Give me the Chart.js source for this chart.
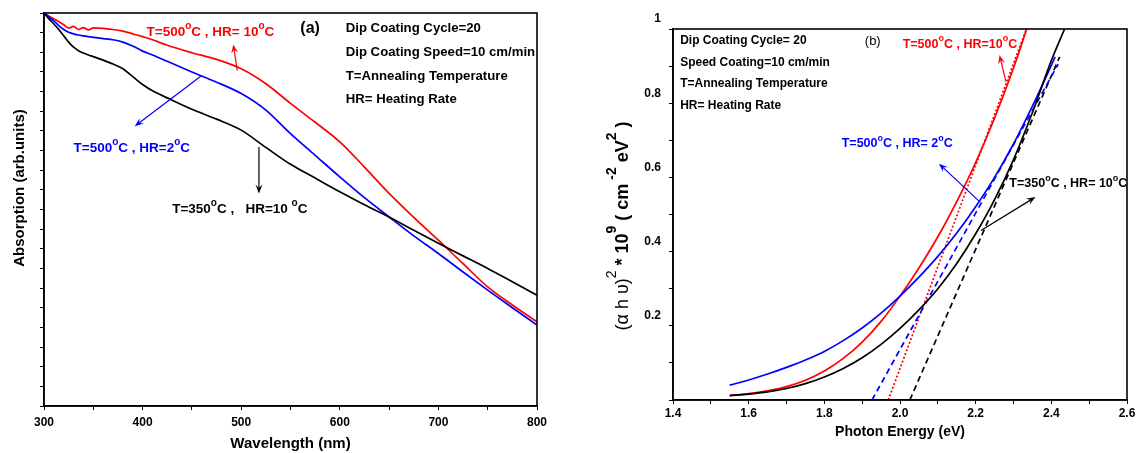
<!DOCTYPE html>
<html>
<head>
<meta charset="utf-8">
<script src="https://cdn.jsdelivr.net/npm/chart.js@4/dist/chart.umd.min.js"></script>
<style>
body { margin: 0; background: #fff; width: 1142px; height: 453px; position: relative; overflow: hidden; }
canvas { position: absolute; top: 0; }
#chartA { left: 0; }
#chartB { left: 580px; }
</style>
</head>
<body>
<canvas id="chartA" width="560" height="453"></canvas>
<canvas id="chartB" width="562" height="453"></canvas>
<script>
// ---- panel (a): absorption spectra ----
const wavelength = [300, 305, 310, 315, 320, 325, 330, 335, 340, 345, 350, 360, 370, 380, 390, 400, 410, 425, 450, 475, 500, 525, 550, 575, 600, 625, 650, 675, 700, 725, 750, 775, 800];
const absRed   = [10.0, 9.92, 9.85, 9.78, 9.70, 9.62, 9.66, 9.58, 9.63, 9.57, 9.62, 9.61, 9.58, 9.54, 9.47, 9.40, 9.32, 9.18, 8.99, 8.82, 8.58, 8.20, 7.70, 7.22, 6.72, 6.08, 5.41, 4.80, 4.22, 3.62, 3.03, 2.57, 2.14];
const absBlue  = [10.0, 9.90, 9.80, 9.68, 9.58, 9.51, 9.47, 9.44, 9.42, 9.40, 9.38, 9.35, 9.32, 9.26, 9.16, 9.03, 8.93, 8.77, 8.50, 8.24, 7.95, 7.53, 6.93, 6.38, 5.83, 5.30, 4.81, 4.33, 3.88, 3.41, 2.95, 2.50, 2.06];
const absBlack = [10.0, 9.85, 9.72, 9.58, 9.42, 9.26, 9.13, 9.04, 8.98, 8.93, 8.89, 8.80, 8.70, 8.58, 8.38, 8.18, 8.02, 7.84, 7.55, 7.30, 7.02, 6.58, 6.15, 5.80, 5.45, 5.12, 4.81, 4.47, 4.14, 3.82, 3.50, 3.16, 2.82];

// ---- panel (b): Tauc plot ----
const energyRed   = [1.55, 1.6, 1.65, 1.7, 1.75, 1.8, 1.85, 1.9, 1.95, 2.0, 2.05, 2.1, 2.15, 2.2, 2.25, 2.3, 2.335];
const taucRed     = [0.012, 0.017, 0.025, 0.036, 0.053, 0.078, 0.112, 0.156, 0.212, 0.280, 0.356, 0.440, 0.535, 0.640, 0.760, 0.895, 1.0];
const energyBlue  = [1.55, 1.6, 1.65, 1.7, 1.75, 1.8, 1.85, 1.9, 1.95, 2.0, 2.05, 2.1, 2.15, 2.2, 2.25, 2.3, 2.35, 2.4, 2.41];
const taucBlue    = [0.040, 0.054, 0.070, 0.088, 0.108, 0.131, 0.160, 0.194, 0.234, 0.280, 0.331, 0.387, 0.450, 0.521, 0.600, 0.690, 0.792, 0.902, 0.925];
const energyBlack = [1.55, 1.6, 1.65, 1.7, 1.75, 1.8, 1.85, 1.9, 1.95, 2.0, 2.05, 2.1, 2.15, 2.2, 2.25, 2.3, 2.35, 2.4, 2.435];
const taucBlack   = [0.012, 0.016, 0.022, 0.031, 0.044, 0.062, 0.085, 0.114, 0.150, 0.193, 0.243, 0.300, 0.368, 0.448, 0.540, 0.648, 0.775, 0.915, 1.0];
// linear fits (band gap extrapolation)
const fitBlue  = [[1.926, 0], [2.418, 0.905]];
const fitRed   = [[1.969, 0], [2.334, 1.0]];
const fitBlack = [[2.026, 0], [2.422, 0.925]];

const RED = '#ff0000', BLUE = '#0000ff', BLACK = '#000000';
const FONT = '"Liberation Sans", Arial, sans-serif';

// notes: text (^{..} = superscript) at data position, arrows from -> to (head at "to")
const notesA = [
  { t: '(a)', x: 560, y: 9.6, c: BLACK, s: 16 },
  { t: 'Dip Coating Cycle=20', x: 606, y: 9.6, c: BLACK, s: 13.2 },
  { t: 'Dip Coating Speed=10 cm/min', x: 606, y: 9.0, c: BLACK, s: 13.2 },
  { t: 'T=Annealing Temperature', x: 606, y: 8.4, c: BLACK, s: 13.2 },
  { t: 'HR= Heating Rate', x: 606, y: 7.8, c: BLACK, s: 13.2 },
  { t: 'T=500^{o}C , HR= 10^{o}C', x: 404, y: 9.5, c: RED, s: 13.5 },
  { t: 'T=500^{o}C , HR=2^{o}C', x: 330, y: 6.55, c: BLUE, s: 13.5 },
  { t: 'T=350^{o}C ,   HR=10 ^{o}C', x: 430, y: 5.0, c: BLACK, s: 13.5 }
];
const arrowsA = [
  { from: [496, 8.54], to: [492, 9.2], c: RED },
  { from: [459, 8.39], to: [392, 7.12], c: BLUE },
  { from: [518, 6.59], to: [518, 5.41], c: BLACK }
];
const notesB = [
  { t: '(b)', x: 1.907, y: 0.967, c: BLACK, s: 13, w: 'normal' },
  { t: 'Dip Coating Cycle= 20', x: 1.419, y: 0.969, c: BLACK, s: 12 },
  { t: 'Speed Coating=10 cm/min', x: 1.419, y: 0.910, c: BLACK, s: 12 },
  { t: 'T=Annealing Temperature', x: 1.419, y: 0.852, c: BLACK, s: 12 },
  { t: 'HR= Heating Rate', x: 1.419, y: 0.792, c: BLACK, s: 12 },
  { t: 'T=500^{o}C , HR=10^{o}C', x: 2.007, y: 0.958, c: RED, s: 12.5 },
  { t: 'T=500^{o}C , HR= 2^{o}C', x: 1.846, y: 0.69, c: BLUE, s: 12.5 },
  { t: 'T=350^{o}C , HR= 10^{o}C', x: 2.289, y: 0.583, c: BLACK, s: 12.5 }
];
const arrowsB = [
  { from: [2.28, 0.858], to: [2.263, 0.93], c: RED },
  { from: [2.209, 0.536], to: [2.103, 0.637], c: BLUE },
  { from: [2.214, 0.457], to: [2.358, 0.547], c: BLACK }
];

function richText(ctx, str, x, y, size, color, weight) {
  const parts = str.split(/(\^\{[^}]*\})/);
  ctx.fillStyle = color;
  ctx.textBaseline = 'middle';
  ctx.textAlign = 'left';
  let cx = x;
  parts.forEach(p => {
    if (!p) return;
    if (p.startsWith('^{')) {
      const s = p.slice(2, -1);
      ctx.font = (weight || 'bold') + ' ' + Math.round(size * 0.72) + 'px ' + FONT;
      ctx.fillText(s, cx, y - size * 0.45);
      cx += ctx.measureText(s).width;
    } else {
      ctx.font = (weight || 'bold') + ' ' + size + 'px ' + FONT;
      ctx.fillText(p, cx, y);
      cx += ctx.measureText(p).width;
    }
  });
  return cx - x;
}

function arrow(ctx, x1, y1, x2, y2, color) {
  const a = Math.atan2(y2 - y1, x2 - x1), L = 9, W = 3.5;
  ctx.strokeStyle = color; ctx.fillStyle = color; ctx.lineWidth = 1.2;
  ctx.beginPath(); ctx.moveTo(x1, y1); ctx.lineTo(x2 - L * 0.6 * Math.cos(a), y2 - L * 0.6 * Math.sin(a)); ctx.stroke();
  ctx.beginPath();
  ctx.moveTo(x2, y2);
  ctx.lineTo(x2 - L * Math.cos(a) + W * Math.sin(a), y2 - L * Math.sin(a) - W * Math.cos(a));
  ctx.lineTo(x2 - L * 0.6 * Math.cos(a), y2 - L * 0.6 * Math.sin(a));
  ctx.lineTo(x2 - L * Math.cos(a) - W * Math.sin(a), y2 - L * Math.sin(a) + W * Math.cos(a));
  ctx.closePath(); ctx.fill();
}

function decoPlugin(notes, arrows, extra) {
  return {
    id: 'deco',
    afterDraw(chart) {
      const ctx = chart.ctx, xs = chart.scales.x, ys = chart.scales.y, ca = chart.chartArea;
      ctx.save();
      ctx.strokeStyle = '#000'; ctx.lineWidth = 1.6;
      ctx.strokeRect(ca.left, ca.top, ca.right - ca.left, ca.bottom - ca.top);
      ctx.beginPath(); ctx.rect(ca.left, ca.top, ca.right - ca.left, ca.bottom - ca.top); ctx.clip();
      notes.forEach(n => richText(ctx, n.t, xs.getPixelForValue(n.x), ys.getPixelForValue(n.y), n.s, n.c, n.w));
      arrows.forEach(a => arrow(ctx, xs.getPixelForValue(a.from[0]), ys.getPixelForValue(a.from[1]),
                                     xs.getPixelForValue(a.to[0]), ys.getPixelForValue(a.to[1]), a.c));
      ctx.restore();
      if (extra) extra(chart);
    }
  };
}

const pts = (xv, yv) => xv.map((x, i) => ({ x, y: yv[i] }));
const line = (data, color, dash) => ({
  data, borderColor: color, backgroundColor: color, borderWidth: 1.7,
  pointRadius: 0, cubicInterpolationMode: 'monotone', fill: false, borderDash: dash || []
});
const tickFont = { family: FONT, size: 12, weight: 'bold' };

function yTitleA(chart) {
  const ctx = chart.ctx;
  ctx.save();
  ctx.translate(20, 188);
  ctx.rotate(-Math.PI / 2);
  ctx.font = 'bold 15px ' + FONT;
  ctx.fillStyle = '#000'; ctx.textAlign = 'center'; ctx.textBaseline = 'middle';
  ctx.fillText('Absorption (arb.units)', 0, 0);
  ctx.restore();
}

new Chart(document.getElementById('chartA'), {
  type: 'line',
  data: {
    datasets: [
      line(pts(wavelength, absBlack), BLACK),
      line(pts(wavelength, absBlue), BLUE),
      line(pts(wavelength, absRed), RED)
    ]
  },
  options: {
    responsive: false, animation: false,
    layout: { padding: { top: 13, right: 23, left: 0, bottom: 0 } },
    plugins: { legend: { display: false }, tooltip: { enabled: false } },
    scales: {
      x: {
        type: 'linear', min: 300, max: 800,
        ticks: { stepSize: 50, color: '#000', font: tickFont, maxRotation: 0, padding: 5,
                 callback: v => (v % 100 === 0 ? v : '') },
        grid: { drawOnChartArea: false, tickLength: 4, color: '#000' },
        border: { color: '#000', width: 1.6 },
        title: { display: true, text: 'Wavelength (nm)', color: '#000', font: { family: FONT, size: 15, weight: 'bold' }, padding: { top: 0, bottom: 0 } },
        afterFit: s => { s.height = 47; }
      },
      y: {
        min: 0, max: 10,
        ticks: { stepSize: 0.5, display: false },
        grid: { drawOnChartArea: false, tickLength: 4, color: '#000' },
        border: { color: '#000', width: 1.6 },
        afterFit: s => { s.width = 44; }
      }
    }
  },
  plugins: [decoPlugin(notesA, arrowsA, yTitleA)]
});

function yTitleB(chart) {
  const ctx = chart.ctx;
  ctx.save();
  ctx.translate(43, 226);
  ctx.rotate(-Math.PI / 2);
  const segs = [
    ['(\u03b1 h \u03c5)', 'normal', 0], ['2', 'normal', 1], [' * 10', 'bold', 0], ['9', 'bold', 1],
    [' ( ', 'bold', 0], ['cm', 'bold', 0], [' -2', 'bold', 1], [' eV', 'bold', 0], ['2', 'bold', 1], [' )', 'bold', 0]
  ];
  const fs = s => s[2] ? 14 : 18;
  let w = 0;
  segs.forEach(s => { ctx.font = s[1] + ' ' + fs(s) + 'px ' + FONT; w += ctx.measureText(s[0]).width; });
  let x = -w / 2;
  ctx.fillStyle = '#000'; ctx.textBaseline = 'middle';
  segs.forEach(s => {
    ctx.font = s[1] + ' ' + fs(s) + 'px ' + FONT;
    ctx.fillText(s[0], x, s[2] ? -11 : 0);
    x += ctx.measureText(s[0]).width;
  });
  ctx.restore();
}

new Chart(document.getElementById('chartB'), {
  type: 'line',
  data: {
    datasets: [
      line(pts(energyBlack, taucBlack), BLACK),
      line(pts(energyBlue, taucBlue), BLUE),
      line(pts(energyRed, taucRed), RED),
      line(fitBlue.map(p => ({ x: p[0], y: p[1] })), BLUE, [6, 4]),
      line(fitRed.map(p => ({ x: p[0], y: p[1] })), RED, [2, 2]),
      line(fitBlack.map(p => ({ x: p[0], y: p[1] })), BLACK, [6, 4])
    ]
  },
  options: {
    responsive: false, animation: false,
    layout: { padding: { top: 29, right: 15, left: 0, bottom: 0 } },
    plugins: { legend: { display: false }, tooltip: { enabled: false } },
    scales: {
      x: {
        type: 'linear', min: 1.4, max: 2.6,
        ticks: { stepSize: 0.1, color: '#000', font: tickFont, maxRotation: 0, padding: 2,
                 callback: v => (Math.round(v * 10) % 2 === 0 ? v.toFixed(1) : '') },
        grid: { drawOnChartArea: false, tickLength: 4, color: '#000' },
        border: { color: '#000', width: 1.6 },
        title: { display: true, text: 'Photon Energy (eV)', color: '#000', font: { family: FONT, size: 14, weight: 'bold' }, padding: { top: 0, bottom: 12 } },
        afterFit: s => { s.height = 53; }
      },
      y: {
        min: 0, max: 1,
        ticks: { stepSize: 0.1, color: '#000', font: tickFont, labelOffset: -10, padding: 8,
                 callback: v => { const k = Math.round(v * 10); return (k > 0 && k % 2 === 0) ? (k === 10 ? '1' : v.toFixed(1)) : ''; } },
        grid: { drawOnChartArea: false, tickLength: 4, color: '#000' },
        border: { color: '#000', width: 1.6 },
        afterFit: s => { s.width = 93; }
      }
    }
  },
  plugins: [decoPlugin(notesB, arrowsB, yTitleB)]
});
</script>
</body>
</html>
